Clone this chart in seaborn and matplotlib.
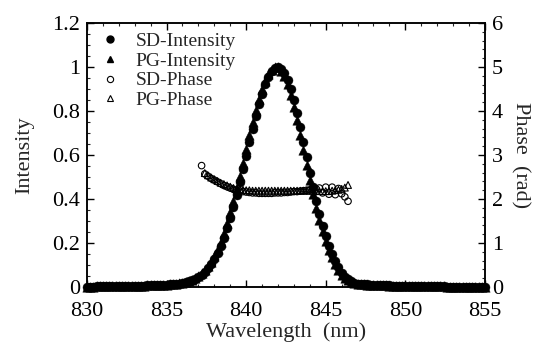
import numpy as np
import pandas as pd
import matplotlib
matplotlib.use("Agg")
import matplotlib.pyplot as plt
from matplotlib.ticker import MultipleLocator
from matplotlib.lines import Line2D
import seaborn as sns

# Wavelength grid of the spectra (nm), 0.2 nm sampling
wl_start, wl_step = 830.0, 0.2

# Spectral intensity, second-derivative (SD) retrieval
sd_intensity = [
    0.002, 0.002, 0.002, 0.003, 0.003, 0.003, 0.003, 0.004, 0.004, 0.004,
    0.004, 0.005, 0.005, 0.005, 0.006, 0.006, 0.006, 0.007, 0.007, 0.008,
    0.008, 0.009, 0.009, 0.010, 0.010, 0.011, 0.012, 0.013, 0.014, 0.016,
    0.019, 0.022, 0.027, 0.031, 0.038, 0.046, 0.056, 0.069, 0.086, 0.105,
    0.127, 0.156, 0.188, 0.225, 0.267, 0.314, 0.364, 0.418, 0.476, 0.536,
    0.597, 0.659, 0.719, 0.777, 0.831, 0.879, 0.921, 0.955, 0.980, 0.995,
    1.000,
    0.993, 0.974, 0.943, 0.901, 0.849, 0.790, 0.726, 0.658, 0.589, 0.520,
    0.454, 0.391, 0.332, 0.278, 0.230, 0.188, 0.152, 0.118, 0.090, 0.066,
    0.048, 0.035, 0.026, 0.020, 0.016, 0.014, 0.013, 0.012, 0.011, 0.010,
    0.010, 0.009, 0.009, 0.008, 0.008, 0.007, 0.007, 0.006, 0.006, 0.005,
    0.005, 0.005, 0.004, 0.004, 0.004, 0.004, 0.003, 0.003, 0.003, 0.003,
    0.003, 0.003, 0.002, 0.002, 0.002, 0.002, 0.002, 0.002, 0.002, 0.002,
    0.002, 0.001, 0.001, 0.001, 0.001,
]

# Spectral intensity, PG retrieval
pg_intensity = [
    0.002, 0.002, 0.002, 0.003, 0.003, 0.003, 0.003, 0.004, 0.004, 0.004,
    0.004, 0.005, 0.005, 0.005, 0.006, 0.006, 0.006, 0.007, 0.007, 0.008,
    0.008, 0.009, 0.009, 0.010, 0.010, 0.011, 0.012, 0.013, 0.015, 0.017,
    0.020, 0.024, 0.029, 0.034, 0.042, 0.051, 0.062, 0.077, 0.095, 0.116,
    0.141, 0.172, 0.206, 0.246, 0.290, 0.339, 0.391, 0.447, 0.506, 0.566,
    0.628, 0.689, 0.748, 0.804, 0.855, 0.900, 0.938, 0.968, 0.988, 0.998,
    0.998,
    0.984, 0.959, 0.922, 0.875, 0.820, 0.758, 0.692, 0.624, 0.555, 0.487,
    0.422, 0.361, 0.305, 0.254, 0.209, 0.170, 0.135, 0.104, 0.078, 0.057,
    0.041, 0.030, 0.023, 0.018, 0.015, 0.013, 0.012, 0.011, 0.010, 0.010,
    0.009, 0.009, 0.008, 0.008, 0.007, 0.007, 0.006, 0.006, 0.005, 0.005,
    0.005, 0.005, 0.004, 0.004, 0.004, 0.004, 0.003, 0.003, 0.003, 0.003,
    0.003, 0.003, 0.002, 0.002, 0.002, 0.002, 0.002, 0.002, 0.002, 0.002,
    0.002, 0.001, 0.001, 0.001, 0.001,
]

# Spectral phase (rad), SD retrieval, from 837.2 nm
sd_phase_start = 837.2
sd_phase = [
    2.76, 2.57, 2.52, 2.47, 2.43, 2.39, 2.35, 2.31, 2.28, 2.25,
    2.22, 2.20, 2.18, 2.17, 2.16, 2.15, 2.14, 2.14, 2.13, 2.13,
    2.13, 2.13, 2.13, 2.14, 2.14, 2.14, 2.15, 2.15, 2.16, 2.17,
    2.17, 2.18, 2.19, 2.20, 2.21, 2.22, 2.23, 2.25, 2.14, 2.27,
    2.11, 2.27, 2.10, 2.24, 2.12, 2.05, 1.95,
]

# Spectral phase (rad), PG retrieval, from 837.4 nm
pg_phase_start = 837.4
pg_phase = [
    2.59, 2.54, 2.49, 2.45, 2.41, 2.37, 2.34, 2.31, 2.28, 2.25,
    2.23, 2.22, 2.21, 2.20, 2.20, 2.19, 2.19, 2.19, 2.19, 2.19,
    2.19, 2.19, 2.19, 2.19, 2.19, 2.19, 2.19, 2.19, 2.19, 2.19,
    2.19, 2.19, 2.19, 2.19, 2.19, 2.19, 2.18, 2.18, 2.18, 2.18,
    2.19, 2.20, 2.21, 2.23, 2.26, 2.32,
]

x_ticks = [830, 835, 840, 845, 850, 855]
labels = ["SD-Intensity", "PG-Intensity", "SD-Phase", "PG-Phase"]


def grid(start, n):
    return np.round(start + wl_step * np.arange(n), 1)


intensity = pd.DataFrame({
    "wavelength": grid(wl_start, len(sd_intensity)),
    "SD": sd_intensity,
    "PG": pg_intensity,
})
sd_ph = pd.DataFrame({"wavelength": grid(sd_phase_start, len(sd_phase)),
                      "phase": sd_phase})
pg_ph = pd.DataFrame({"wavelength": grid(pg_phase_start, len(pg_phase)),
                      "phase": pg_phase})

sns.set_theme(style="ticks")
plt.rcParams["font.family"] = ["Liberation Serif", "DejaVu Serif"]

fig = plt.figure(figsize=(5.37, 3.43), dpi=100)
ax = fig.add_axes([0.162, 0.163, 0.741, 0.770])
ax2 = ax.twinx()

sns.scatterplot(data=intensity, x="wavelength", y="SD", ax=ax, marker="o",
                s=42, color="black", edgecolor="black", linewidth=0.3,
                legend=False, zorder=3, clip_on=False)
sns.scatterplot(data=intensity, x="wavelength", y="PG", ax=ax, marker="^",
                s=46, color="black", edgecolor="black", linewidth=0.3,
                legend=False, zorder=3, clip_on=False)
sns.scatterplot(data=sd_ph, x="wavelength", y="phase", ax=ax2, marker="o",
                s=22, facecolor="none", edgecolor="black", linewidth=0.8,
                legend=False)
sns.scatterplot(data=pg_ph, x="wavelength", y="phase", ax=ax2, marker="^",
                s=24, facecolor="none", edgecolor="black", linewidth=0.8,
                legend=False)

ax.set_xlim(830, 855)
ax.set_ylim(0, 1.2)
ax2.set_ylim(0, 6)

ax.set_xticks(x_ticks)
ax.set_xticklabels([str(t) for t in x_ticks])
ax.xaxis.set_minor_locator(MultipleLocator(1))
ax.set_yticks([0, 0.2, 0.4, 0.6, 0.8, 1.0, 1.2])
ax.set_yticklabels(["0", "0.2", "0.4", "0.6", "0.8", "1", "1.2"])
ax.yaxis.set_minor_locator(MultipleLocator(0.05))
ax2.set_yticks([0, 1, 2, 3, 4, 5, 6])
ax2.yaxis.set_minor_locator(MultipleLocator(0.2))

for a in (ax, ax2):
    for s in a.spines.values():
        s.set_visible(True)
        s.set_linewidth(1.1)
        s.set_color("black")

ax.tick_params(axis="both", which="major", direction="in", length=5,
               width=1.0, labelsize=16, colors="black", top=True, pad=5)
ax.tick_params(axis="x", which="major", pad=11)
ax.tick_params(axis="both", which="minor", direction="in", length=2.5,
               width=0.8, top=True)
ax.tick_params(axis="y", right=False)
ax2.tick_params(axis="y", which="major", direction="in", length=5,
                width=1.0, labelsize=16, colors="black", pad=5)
ax2.tick_params(axis="y", which="minor", direction="in", length=2.5,
                width=0.8)

ax.set_xlabel("Wavelength  (nm)", fontsize=16, labelpad=1)
ax.set_ylabel("Intensity", fontsize=16, labelpad=13)
ax2.set_ylabel("Phase  (rad)", fontsize=16, rotation=270, labelpad=19)

handles = [
    Line2D([], [], ls="none", marker="o", ms=5, color="black"),
    Line2D([], [], ls="none", marker="^", ms=5, color="black"),
    Line2D([], [], ls="none", marker="o", ms=4.5, mfc="none", mec="black",
           mew=0.8),
    Line2D([], [], ls="none", marker="^", ms=4.5, mfc="none", mec="black",
           mew=0.8),
]
ax2.legend(handles, labels, loc="upper left", frameon=False, fontsize=14,
           handlelength=1.0, handletextpad=0.8, labelspacing=0.1,
           borderaxespad=0.3, bbox_to_anchor=(0.0, 1.015))

fig.savefig("out.png", dpi=100)
